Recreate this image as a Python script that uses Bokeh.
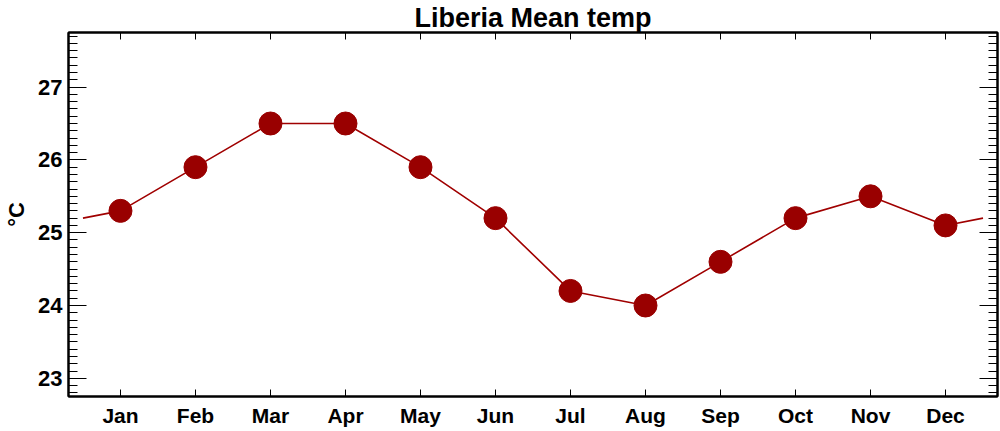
from bokeh.plotting import figure
from bokeh.models import Range1d, LinearAxis, FixedTicker, SingleIntervalTicker
from bokeh.embed import file_html
from bokeh.resources import INLINE

months = ["Jan", "Feb", "Mar", "Apr", "May", "Jun", "Jul", "Aug", "Sep", "Oct", "Nov", "Dec"]
month_pos = [1, 2, 3, 4, 5, 6, 7, 8, 9, 10, 11, 12]
mean_temp = [25.3, 25.9, 26.5, 26.5, 25.9, 25.2, 24.2, 24.0, 24.6, 25.2, 25.5, 25.1]
edge_pos = [0.5, 12.5]
edge_temp = [25.2, 25.2]
y_ticks = [23, 24, 25, 26, 27]

line_x = [edge_pos[0]] + month_pos + [edge_pos[1]]
line_y = [edge_temp[0]] + mean_temp + [edge_temp[1]]

FONT = "Liberation Sans"
RED = "#990000"

p = figure(width=1000, height=431, output_backend="svg", toolbar_location=None,
           x_range=Range1d(0.307, 12.693), y_range=Range1d(22.75, 27.75),
           x_axis_location=None, y_axis_location=None,
           min_border_left=68, min_border_right=3, min_border_top=20, min_border_bottom=35)
p.xgrid.visible = False
p.ygrid.visible = False
p.outline_line_color = "black"
p.outline_line_width = 2
p.background_fill_color = "white"
p.border_fill_color = "white"

p.title.text = "Liberia Mean temp"
p.title.align = "center"
p.title.text_font = FONT
p.title.text_font_style = "bold"
p.title.text_font_size = "27px"
p.title.text_color = "black"
p.title.offset = 0
p.title.standoff = 0


def style_y(ax, labels=True):
    ax.major_tick_in = 18
    ax.major_tick_out = 0
    ax.minor_tick_in = 9
    ax.minor_tick_out = 0
    ax.major_tick_line_color = "black"
    ax.minor_tick_line_color = "black"
    ax.axis_line_color = "black"
    ax.axis_line_width = 2
    ax.major_label_text_font = FONT
    ax.major_label_text_font_style = "bold"
    ax.major_label_text_color = "black"
    ax.major_label_text_font_size = "22px"
    ax.major_label_standoff = 6
    if not labels:
        ax.major_label_overrides = {t: "" for t in y_ticks}
        ax.major_label_text_color = None
        ax.major_label_text_font_size = "1px"
        ax.major_label_standoff = 0


left = LinearAxis(ticker=SingleIntervalTicker(interval=1, num_minor_ticks=10), axis_label="°C")
style_y(left)
left.axis_label_text_font = FONT
left.axis_label_text_font_style = "bold"
left.axis_label_text_font_size = "22px"
left.axis_label_text_color = "black"
left.axis_label_standoff = 6
p.add_layout(left, "left")

right = LinearAxis(ticker=SingleIntervalTicker(interval=1, num_minor_ticks=10), axis_label=None,
                   axis_label_standoff=0)
style_y(right, labels=False)
p.add_layout(right, "right")


def style_x(ax, labels=True):
    ax.major_tick_in = 7
    ax.major_tick_out = 0
    ax.minor_tick_in = 0
    ax.minor_tick_out = 0
    ax.major_tick_line_color = "black"
    ax.axis_line_color = "black"
    ax.axis_line_width = 2
    ax.axis_label = None
    ax.axis_label_standoff = 0
    ax.major_label_text_font = FONT
    ax.major_label_text_font_style = "bold"
    ax.major_label_text_color = "black"
    ax.major_label_text_font_size = "21px"
    ax.major_label_standoff = 7
    if not labels:
        ax.major_label_overrides = {t: "" for t in month_pos}
        ax.major_label_text_color = None
        ax.major_label_text_font_size = "1px"
        ax.major_label_standoff = 0


bottom = LinearAxis(ticker=FixedTicker(ticks=month_pos),
                    major_label_overrides={m: n for m, n in zip(month_pos, months)})
style_x(bottom)
p.add_layout(bottom, "below")

top = LinearAxis(ticker=FixedTicker(ticks=month_pos))
style_x(top, labels=False)
p.add_layout(top, "above")

p.line(line_x, line_y, line_color="#a00000", line_width=1.6)
p.scatter(month_pos, mean_temp, size=23, fill_color=RED, line_color=RED)

open("out.html", "w").write(file_html(p, INLINE))
